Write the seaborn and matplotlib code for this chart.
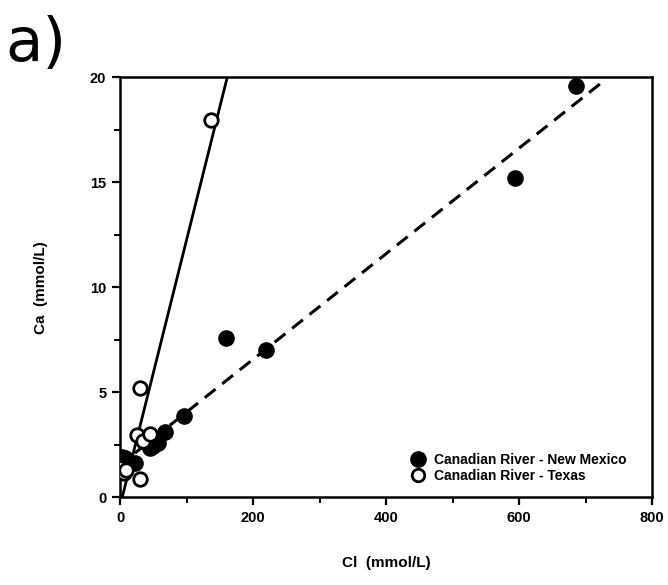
import matplotlib
matplotlib.use("Agg")
import matplotlib.pyplot as plt
import seaborn as sns
import pandas as pd
import numpy as np
from matplotlib.ticker import MultipleLocator
from matplotlib.lines import Line2D

sns.set_style("white")
plt.rcParams['font.family'] = ['Liberation Sans', 'DejaVu Sans']
plt.rcParams.update({"text.color": "black", "axes.labelcolor": "black",
                     "xtick.color": "black", "ytick.color": "black"})

# Canadian River - New Mexico (filled)
nm_cl = [686, 594, 220, 159, 96, 68, 57, 50, 45, 22, 7, 3]
nm_ca = [19.6, 15.2, 7.0, 7.6, 3.85, 3.1, 2.6, 2.45, 2.35, 1.65, 1.85, 1.9]
# Canadian River - Texas (open)
tx_cl = [137, 29, 25, 34, 45, 29, 0, 5, 9]
tx_ca = [17.95, 5.2, 2.95, 2.7, 3.0, 0.88, 1.4, 1.15, 1.3]

# regression lines (endpoints in data units)
tx_line_x = [3, 161]
tx_line_y = [0, 20]
nm_line_x = [22, 725]
nm_line_y = [2.1, 19.76]

df = pd.DataFrame({
    "Cl": nm_cl + tx_cl,
    "Ca": nm_ca + tx_ca,
    "site": ["Canadian River - New Mexico"] * len(nm_cl) + ["Canadian River - Texas"] * len(tx_cl),
})

fig = plt.figure(figsize=(6.68, 5.85), dpi=100)
ax = fig.add_axes([0.18, 0.150, 0.796, 0.718])

sns.lineplot(x=tx_line_x, y=tx_line_y, ax=ax, color="black", lw=2.0, legend=False)
sns.lineplot(x=nm_line_x, y=nm_line_y, ax=ax, color="black", lw=2.2, legend=False,
             linestyle=(0, (4.5, 2.8)))

sub_nm = df[df.site == "Canadian River - New Mexico"]
sub_tx = df[df.site == "Canadian River - Texas"]
sns.scatterplot(data=sub_nm, x="Cl", y="Ca", ax=ax, color="black", s=120,
                edgecolor="black", linewidth=1, legend=False, zorder=3)
sns.scatterplot(data=sub_tx, x="Cl", y="Ca", ax=ax, facecolor="white", s=95,
                edgecolor="black", linewidth=2, legend=False, zorder=4)

ax.set_xlim(0, 800)
ax.set_ylim(0, 20)
ax.xaxis.set_major_locator(MultipleLocator(200))
ax.xaxis.set_minor_locator(MultipleLocator(100))
ax.yaxis.set_major_locator(MultipleLocator(5))
ax.yaxis.set_minor_locator(MultipleLocator(2.5))
ax.tick_params(which="major", direction="out", length=6, width=1.6, bottom=True, left=True,
               labelsize=10.5, pad=4)
ax.tick_params(which="minor", direction="out", length=4, width=1.4, bottom=True, left=True)
for lab in ax.get_xticklabels() + ax.get_yticklabels():
    lab.set_fontweight("bold")
for sp in ax.spines.values():
    sp.set_linewidth(1.8)
    sp.set_color("black")

ax.set_xlabel("Cl  (mmol/L)", fontsize=11, fontweight="bold", labelpad=22)
ax.set_ylabel("Ca  (mmol/L)", fontsize=11, fontweight="bold", labelpad=30)

handles = [
    Line2D([], [], marker="o", linestyle="none", markerfacecolor="black",
           markeredgecolor="black", markersize=11),
    Line2D([], [], marker="o", linestyle="none", markerfacecolor="white",
           markeredgecolor="black", markeredgewidth=2, markersize=9),
]
leg = ax.legend(handles, ["Canadian River - New Mexico", "Canadian River - Texas"],
                loc="lower right", bbox_to_anchor=(0.975, 0.005), frameon=False,
                handletextpad=0.6, labelspacing=0.1, handlelength=1.0,
                prop={"weight": "bold", "size": 10})

fig.text(0.008, 0.975, "a)", fontsize=44, va="top", ha="left", color="black",
         family=["DejaVu Sans"])

fig.savefig("out.png", dpi=100)
